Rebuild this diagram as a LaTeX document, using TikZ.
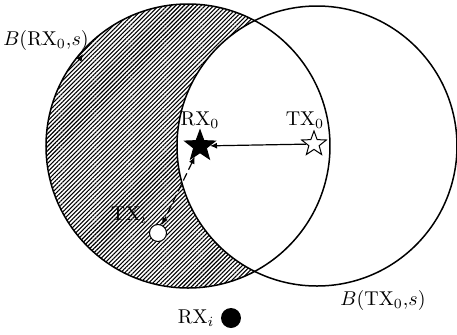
\documentclass[tikz,border=0pt]{standalone}
\usetikzlibrary{shapes.geometric,patterns.meta,arrows.meta}
\begin{document}
\begin{tikzpicture}[x=0.5pt,y=-0.5pt,
  circ/.style={line width=0.75pt},
  lbl/.style={inner sep=0pt,font=\normalsize},
  tip/.style={-{Latex[length=3.5pt,width=3pt]}},
  starnode/.style={star,star points=5,star point ratio=2.4,draw,line width=0.5pt,inner sep=0pt}]
\useasboundingbox (0,0) rectangle (457,334);
\coordinate (cL) at (188,146);
\coordinate (cR) at (317,146);
% hatched region: left ball minus right ball
\begin{scope}
  \clip (cL) circle[radius=71pt];
  \fill[pattern={Lines[angle=45,distance=1.5pt,line width=0.55pt]},even odd rule]
    (cL) circle[radius=71pt] (cR) circle[radius=70pt];
\end{scope}
\draw[circ] (cL) circle[radius=71pt];
\draw[circ] (cR) circle[radius=70pt];
% nodes
\node[starnode,fill=black,minimum size=16pt] (rx0) at (200,146) {};
\node[starnode,fill=white,minimum size=13pt] (tx0) at (314,144) {};
\node[circle,draw,fill=white,line width=0.5pt,minimum size=8.5pt,inner sep=0pt] (txi) at (158,233) {};
\node[circle,fill=black,minimum size=10pt,inner sep=0pt] (rxi) at (231,318) {};
% labels
\node[lbl] (lrx0) at (200,120) {$\mathrm{RX}_0$};
\node[lbl] (ltx0) at (305,120) {$\mathrm{TX}_0$};
\node[lbl] (ltxi) at (129,215) {$\mathrm{TX}_i$};
\node[lbl] (lrxi) at (196,318) {$\mathrm{RX}_i$};
\node[lbl] (lbr) at (46,40) {$B(\mathrm{RX}_0{,}s)$};
\node[lbl] (lbt) at (383,300) {$B(\mathrm{TX}_0{,}s)$};
% connectors
\draw[tip,line width=0.6pt] (tx0) -- (rx0);
\draw[{Latex[length=3.5pt,width=3pt]}-{Latex[length=3.5pt,width=3pt]},line width=0.6pt,dash pattern=on 4pt off 2pt] (rx0) -- (txi);
\coordinate (m1) at (79,60);
\coordinate (m2) at (83,54);
\draw[tip,line width=0.5pt] (m1) -- (m2);
\end{tikzpicture}
\end{document}
